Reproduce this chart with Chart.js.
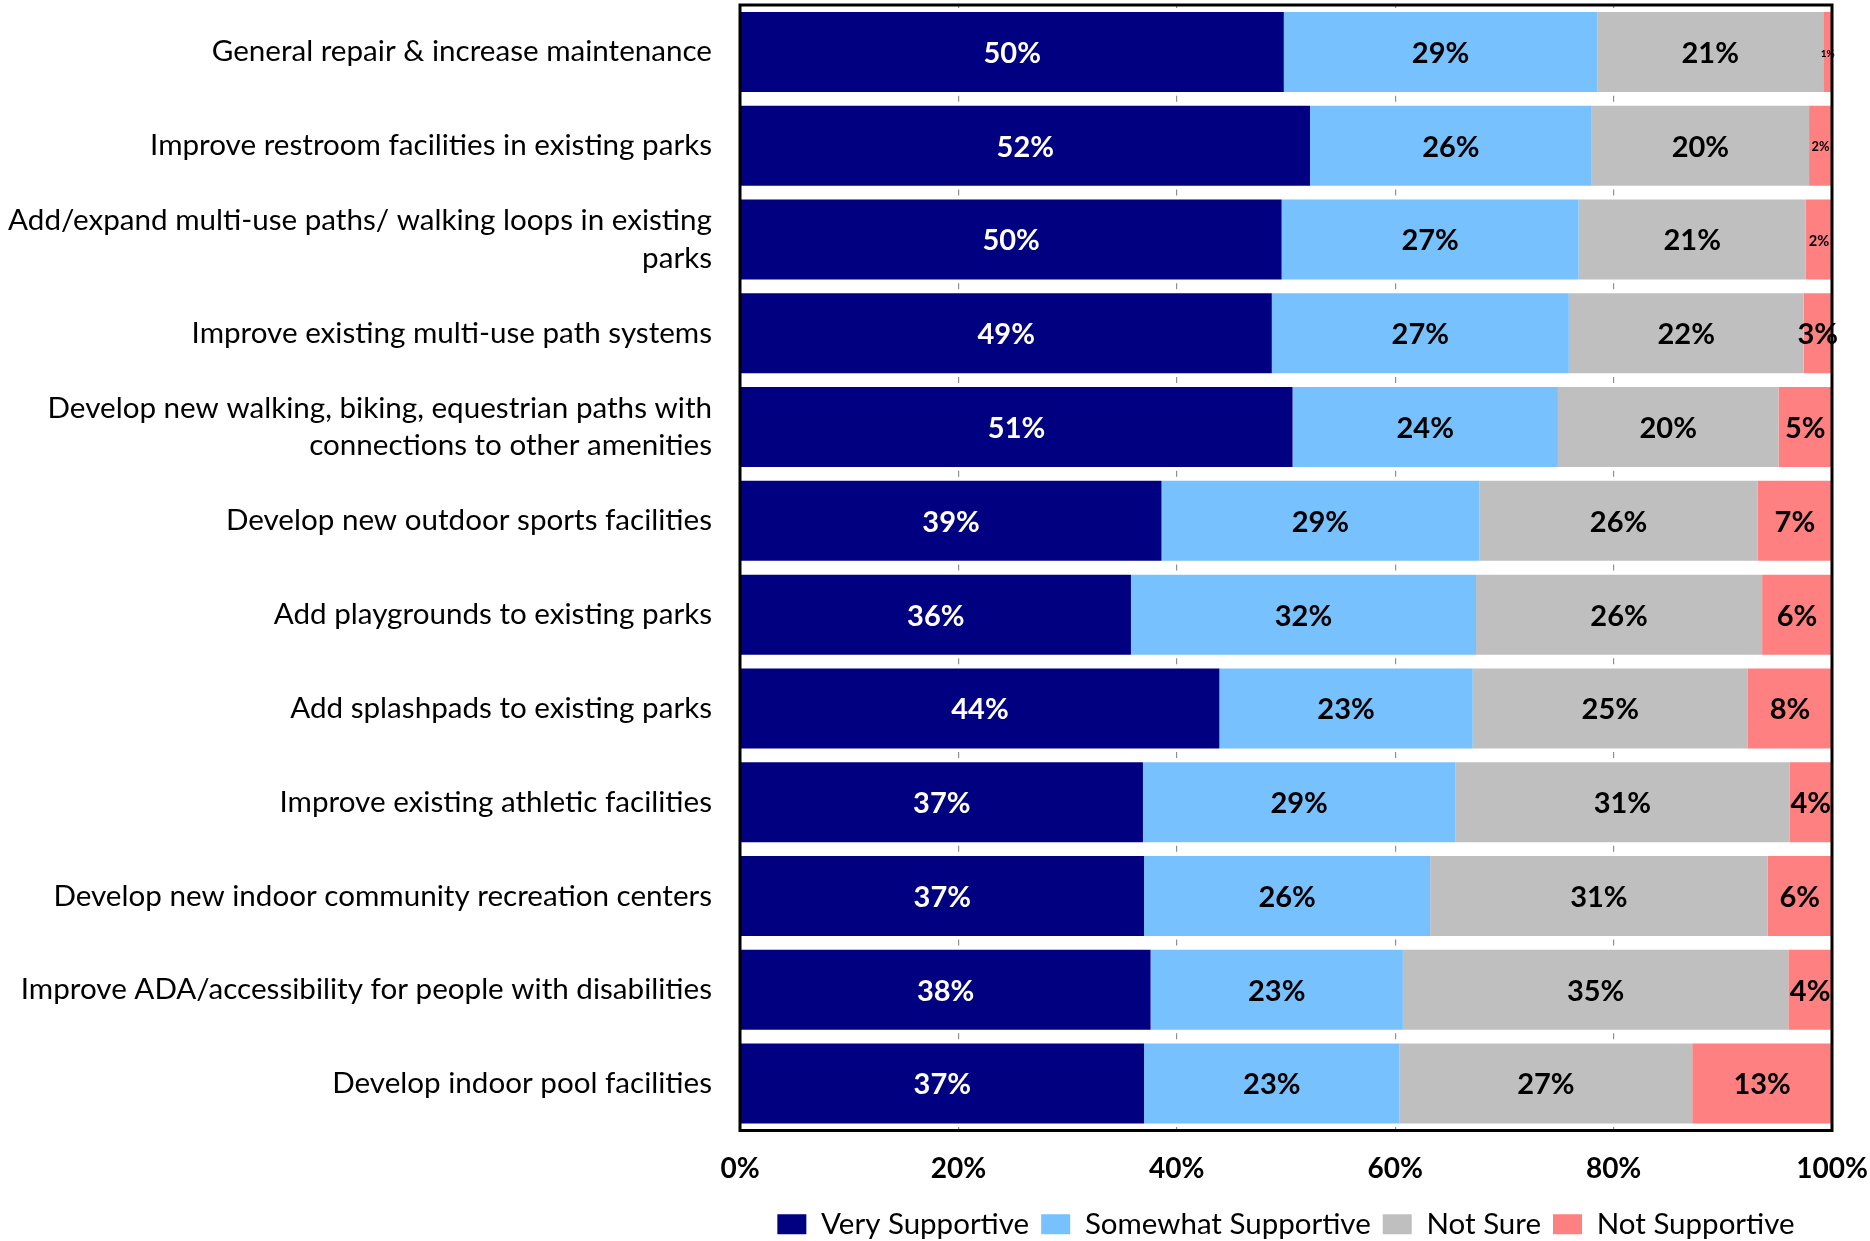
<!DOCTYPE html>
<html><head><meta charset="utf-8">
<script src="https://cdn.jsdelivr.net/npm/chart.js@4.4.1/dist/chart.umd.min.js"></script>
<style>html,body{margin:0;padding:0;background:#fff;}#wrap{width:1870px;height:1241px;}</style>
</head><body><div id="wrap"><canvas id="c" width="1870" height="1241"></canvas></div>
<script>
const categories = [
  "General repair & increase maintenance",
  "Improve restroom facilities in existing parks",
  ["Add/expand multi-use paths/ walking loops in existing", "parks"],
  "Improve existing multi-use path systems",
  ["Develop new walking, biking, equestrian paths with", "connections to other amenities"],
  "Develop new outdoor sports facilities",
  "Add playgrounds to existing parks",
  "Add splashpads to existing parks",
  "Improve existing athletic facilities",
  "Develop new indoor community recreation centers",
  "Improve ADA/accessibility for people with disabilities",
  "Develop indoor pool facilities"
];
const seriesNames = ["Very Supportive", "Somewhat Supportive", "Not Sure", "Not Supportive"];
const verySupportive     = [49.8, 52.2, 49.6, 48.7, 50.6, 38.6, 35.8, 43.9, 36.9, 37.0, 37.6, 37.0];
const somewhatSupportive = [28.7, 25.8, 27.2, 27.2, 24.3, 29.1, 31.6, 23.2, 28.6, 26.2, 23.1, 23.4];
const notSure            = [20.7, 19.9, 20.8, 21.5, 20.2, 25.5, 26.2, 25.2, 30.6, 30.9, 35.3, 26.8];
const notSupportive      = [0.8, 2.1, 2.4, 2.6, 4.9, 6.8, 6.4, 7.7, 3.9, 5.9, 4.0, 12.8];
const xTickValues = [0, 20, 40, 60, 80, 100];

const seriesColors = ["#000080", "#77C1FE", "#BFBFBF", "#FF8080"];
const labelColors = ["#FFFFFF", "#000000", "#000000", "#000000"];
const FONT = "Lato";

const valueLabels = {
  id: "valueLabels",
  afterDatasetsDraw(chart) {
    const ctx = chart.ctx;
    ctx.save();
    ctx.textAlign = "center";
    ctx.textBaseline = "middle";
    chart.data.datasets.forEach((ds, i) => {
      const meta = chart.getDatasetMeta(i);
      meta.data.forEach((bar, j) => {
        const v = ds.data[j];
        const w = Math.abs(bar.x - bar.base);
        const cx = (bar.x + bar.base) / 2;
        let size = 29;
        if (w < 27) size = Math.max(10, w * 0.56);
        ctx.font = "bold " + size + "px " + FONT;
        ctx.fillStyle = labelColors[i];
        ctx.fillText(Math.round(v) + "%", cx, bar.y + 1.5);
      });
    });
    ctx.restore();
  }
};
const frame = {
  id: "frame",
  afterDatasetsDraw(chart) {
    const a = chart.chartArea, ctx = chart.ctx;
    ctx.save();
    ctx.strokeStyle = "#000";
    ctx.lineWidth = 3;
    ctx.strokeRect(a.left, a.top, a.right - a.left, a.bottom - a.top);
    ctx.restore();
  }
};

const seriesData = [verySupportive, somewhatSupportive, notSure, notSupportive];
new Chart(document.getElementById("c"), {
  type: "bar",
  data: {
    labels: categories,
    datasets: seriesNames.map((n, i) => ({
      label: n,
      data: seriesData[i],
      backgroundColor: seriesColors[i],
      borderWidth: 0,
      barPercentage: 0.853,
      categoryPercentage: 1
    }))
  },
  options: {
    indexAxis: "y",
    responsive: false,
    animation: false,
    layout: { padding: { left: 5, right: 38, top: 5, bottom: -8 } },
    scales: {
      x: {
        stacked: true, min: 0, max: 100,
        afterBuildTicks(s) { s.ticks = xTickValues.map(v => ({ value: v })); },
        afterFit(s) { s.height = 67; s.paddingLeft = 0; s.paddingRight = 0; },
        ticks: { callback: v => v + "%", color: "#000", font: { family: FONT, size: 28, weight: "bold" }, padding: 22, maxRotation: 0 },
        grid: { drawTicks: false, color: "#909090", lineWidth: 1.2 },
        border: { display: false, dash: [6, 87.75], dashOffset: 3 }
      },
      y: {
        stacked: true,
        afterFit(s) { s.width = 735; s.paddingTop = 0; s.paddingBottom = 0; },
        ticks: { color: "#000", font: { family: FONT, size: 29.6, lineHeight: 1.27 }, padding: 28, autoSkip: false },
        grid: { display: false, drawTicks: false },
        border: { display: false }
      }
    },
    plugins: {
      legend: {
        position: "bottom", fullSize: false,
        labels: { boxWidth: 29, boxHeight: 20, color: "#000", font: { family: FONT, size: 29.5 }, padding: 12 }
      },
      tooltip: { enabled: false }
    }
  },
  plugins: [valueLabels, frame]
});
</script>
</body></html>
